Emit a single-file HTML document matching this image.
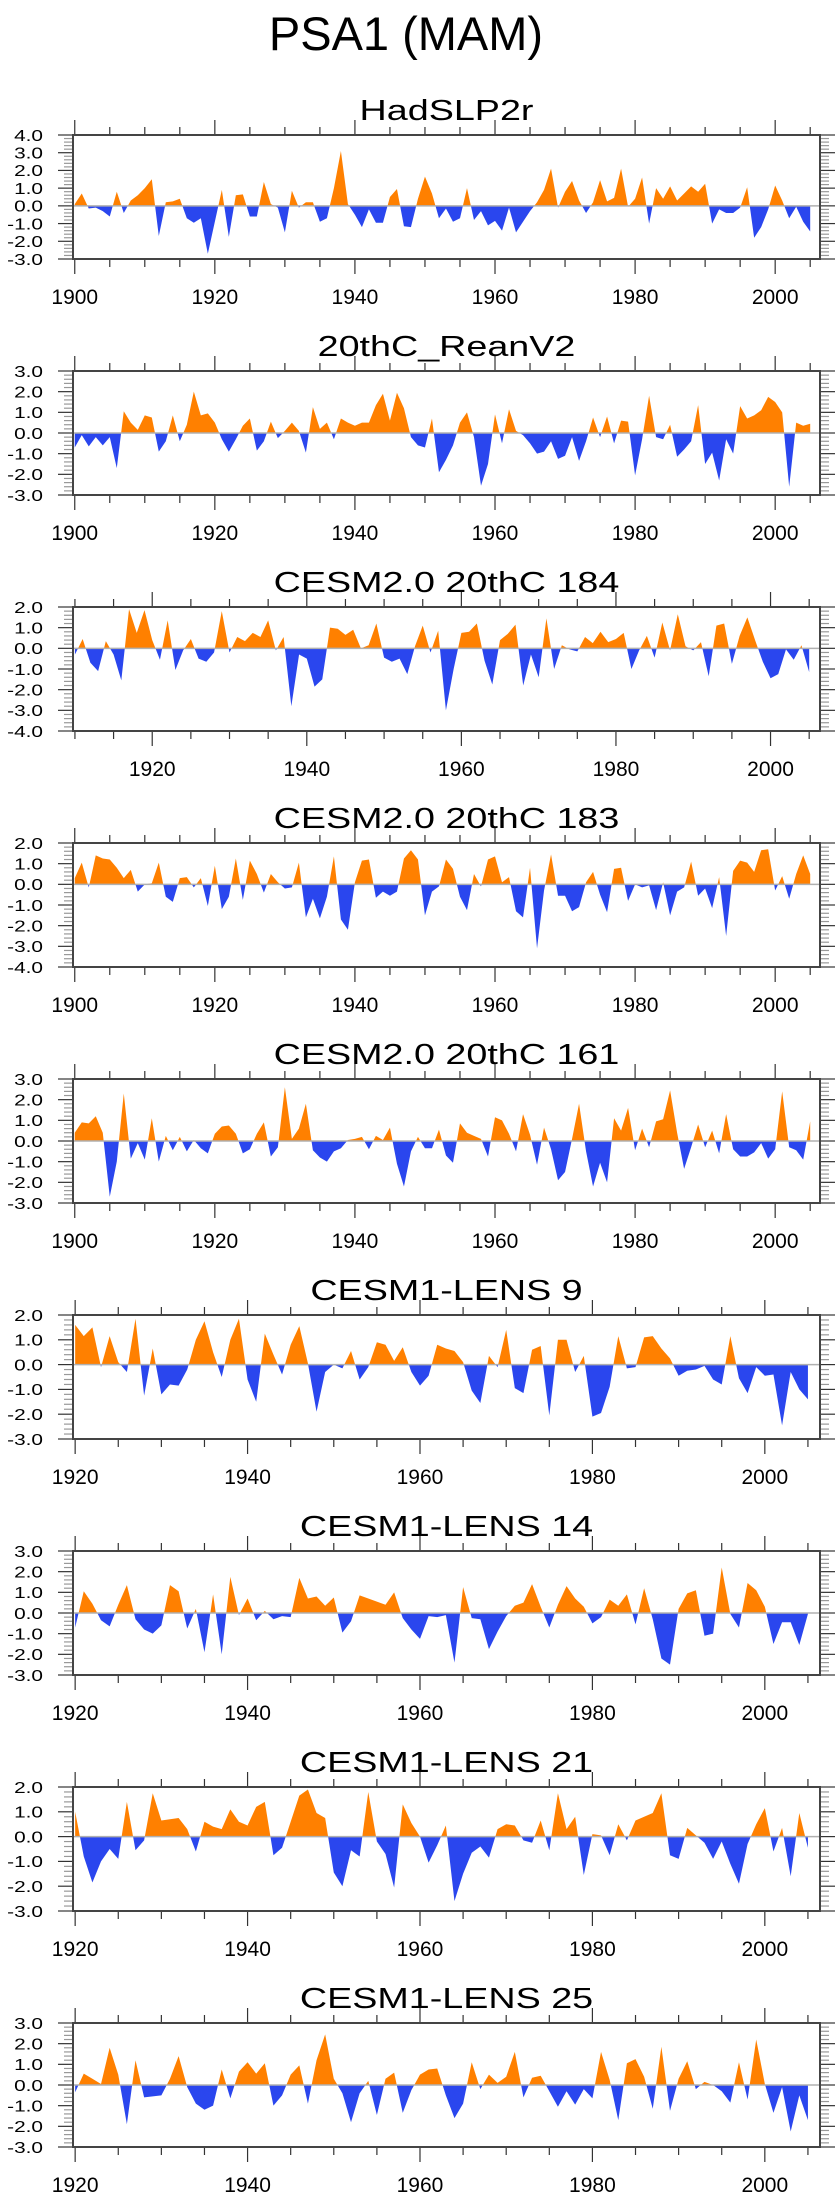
<!DOCTYPE html>
<html><head><meta charset="utf-8">
<style>
html,body{margin:0;padding:0;background:#fff;}
svg{display:block;font-family:"Liberation Sans",Arial,sans-serif;}
</style></head>
<body>
<svg id="chart" width="840" height="2200" viewBox="0 0 840 2200" xmlns="http://www.w3.org/2000/svg">
<text x="406" y="50" font-size="47" text-anchor="middle" fill="#000">PSA1 (MAM)</text>
</svg>
<script>
const panelTitles = ["HadSLP2r","20thC_ReanV2","CESM2.0 20thC 184","CESM2.0 20thC 183","CESM2.0 20thC 161","CESM1-LENS 9","CESM1-LENS 14","CESM1-LENS 21","CESM1-LENS 25"];
const startYears = [1900,1900,1910,1900,1900,1920,1920,1920,1920];
const yMins = [-3,-3,-4,-4,-3,-3,-3,-3,-3];
const yMaxs = [4,3,2,2,3,2,3,2,3];
const xTickYears = [1900,1920,1940,1960,1980,2000];

const hadslp2r = [0.1,0.7,-0.15,-0.1,-0.3,-0.6,0.8,-0.4,0.3,0.6,
1.0,1.5,-1.7,0.2,0.25,0.4,-0.7,-0.95,-0.7,-2.7,
-0.9,0.9,-1.75,0.6,0.65,-0.6,-0.6,1.35,0.1,-0.1,
-1.5,0.85,-0.1,0.2,0.2,-0.9,-0.7,1.0,3.1,0.1,
-0.5,-1.2,-0.2,-0.95,-0.95,0.5,0.95,-1.15,-1.2,0.4,
1.65,0.7,-0.7,-0.15,-0.9,-0.7,1.0,-0.8,-0.3,-1.1,
-0.85,-1.4,-0.1,-1.5,-0.9,-0.3,0.2,0.9,2.1,-0.1,
0.8,1.4,0.3,-0.4,0.2,1.45,0.25,0.45,2.1,-0.05,
0.4,1.6,-1.0,1.0,0.4,1.1,0.3,0.7,1.1,0.8,
1.25,-1.0,-0.2,-0.4,-0.4,-0.1,1.05,-1.8,-1.2,-0.2,
1.15,0.3,-0.7,-0.05,-0.9,-1.45];
const reanV2 = [-0.7,-0.1,-0.65,-0.2,-0.6,-0.2,-1.7,1.05,0.5,0.15,
0.85,0.75,-0.9,-0.4,0.85,-0.4,0.4,2.0,0.85,0.95,
0.5,-0.3,-0.9,-0.3,0.35,0.7,-0.85,-0.4,0.55,-0.25,
0.1,0.5,0.1,-0.95,1.25,0.2,0.5,-0.3,0.7,0.5,
0.35,0.5,0.5,1.35,1.9,0.6,1.95,1.2,-0.2,-0.6,
-0.7,0.7,-1.9,-1.3,-0.6,0.5,1.0,-0.2,-2.55,-1.5,
0.9,-0.5,1.15,0.1,-0.1,-0.5,-1.0,-0.9,-0.4,-1.25,
-1.1,-0.2,-1.35,-0.4,0.75,-0.2,0.8,-0.5,0.6,0.55,
-2.05,-0.3,1.8,-0.2,-0.3,0.4,-1.15,-0.8,-0.4,1.35,
-1.5,-0.95,-2.3,-0.3,-1.0,1.3,0.7,0.85,1.1,1.75,
1.5,1.0,-2.6,0.5,0.35,0.45];
const cesm2_184 = [-0.3,0.45,-0.7,-1.1,0.35,-0.3,-1.55,1.9,0.75,1.85,
0.4,-0.55,1.35,-1.05,-0.1,0.45,-0.5,-0.65,-0.2,1.8,
-0.2,0.55,0.35,0.75,0.55,1.35,-0.1,0.55,-2.8,-0.3,
-0.5,-1.85,-1.5,1.0,0.95,0.65,0.9,0.0,0.15,1.2,
-0.45,-0.65,-0.5,-1.25,0.1,1.1,-0.2,0.85,-3.0,-1.0,
0.75,0.8,1.2,-0.6,-1.75,0.4,0.7,1.15,-1.8,-0.3,
-1.4,1.45,-1.0,0.15,-0.05,-0.15,0.55,0.25,0.8,0.3,
0.45,0.75,-1.0,-0.1,0.6,-0.45,1.25,-0.1,1.65,0.1,
-0.1,0.3,-1.35,1.1,1.2,-0.75,0.6,1.5,0.4,-0.65,
-1.45,-1.25,-0.05,-0.55,0.15,-1.15];
const cesm2_183 = [0.3,1.05,-0.15,1.4,1.25,1.2,0.8,0.3,0.7,-0.35,
0.0,0.05,1.05,-0.6,-0.85,0.3,0.35,-0.15,0.3,-1.05,
0.9,-1.2,-0.6,1.25,-0.75,1.15,0.5,-0.4,0.5,0.1,
-0.2,-0.15,1.05,-1.6,-0.7,-1.65,-0.6,1.35,-1.7,-2.2,
0.1,1.15,1.2,-0.65,-0.35,-0.55,-0.35,1.25,1.65,1.2,
-1.5,-0.35,-0.1,1.2,0.75,-0.6,-1.25,0.5,-0.1,1.2,
1.35,0.1,0.35,-1.3,-1.6,0.8,-3.1,-0.3,1.45,-0.55,
-0.55,-1.3,-1.1,0.1,0.6,-0.5,-1.35,0.75,0.8,-0.8,
0.0,-0.15,-0.05,-1.25,0.1,-1.5,-0.35,-0.15,1.1,-0.55,
-0.2,-1.15,0.35,-2.5,0.65,1.15,1.05,0.6,1.65,1.7,
-0.3,0.4,-0.7,0.5,1.4,0.5];
const cesm2_161 = [0.4,0.9,0.85,1.2,0.4,-2.7,-1.0,2.3,-0.85,-0.1,
-0.9,1.1,-1.0,0.25,-0.45,0.2,-0.5,0.05,-0.35,-0.6,
0.35,0.7,0.75,0.35,-0.6,-0.4,0.35,0.9,-0.75,-0.3,
2.6,0.1,0.6,1.8,-0.45,-0.8,-1.0,-0.5,-0.35,0.05,
0.1,0.2,-0.4,0.25,0.05,0.65,-1.1,-2.2,-0.5,0.2,
-0.35,-0.35,0.55,-0.7,-1.05,0.85,0.4,0.25,0.1,-0.75,
1.15,1.0,0.35,-0.5,1.3,0.3,-1.15,0.65,-0.4,-1.9,
-1.5,0.1,1.8,-0.5,-2.2,-1.05,-2.0,1.1,0.5,1.6,
-0.45,0.6,-0.3,0.95,1.05,2.45,0.4,-1.35,-0.3,0.8,
-0.3,0.5,-0.6,1.3,-0.4,-0.75,-0.75,-0.55,-0.1,-0.85,
-0.4,2.4,-0.3,-0.45,-0.9,0.95];
const lens9 = [1.6,1.15,1.5,-0.1,1.15,0.1,-0.3,1.85,-1.25,0.65,
-1.2,-0.8,-0.85,-0.2,1.0,1.75,0.5,-0.5,1.0,1.85,
-0.6,-1.5,1.25,0.4,-0.4,0.8,1.55,0.05,-1.9,-0.3,
0.0,-0.15,0.55,-0.6,-0.1,0.9,0.8,0.15,0.7,-0.3,
-0.85,-0.45,0.8,0.65,0.55,0.1,-1.05,-1.55,0.35,-0.1,
1.4,-0.95,-1.15,0.6,0.75,-2.05,1.0,1.0,-0.3,0.35,
-2.1,-1.95,-0.9,1.15,-0.15,-0.1,1.1,1.15,0.65,0.25,
-0.45,-0.25,-0.2,-0.05,-0.6,-0.8,1.15,-0.55,-1.15,-0.1,
-0.45,-0.4,-2.45,-0.3,-1.0,-1.4];
const lens14 = [-0.7,1.05,0.45,-0.35,-0.65,0.4,1.35,-0.3,-0.8,-1.0,
-0.6,1.35,1.05,-0.75,0.2,-1.9,0.9,-2.0,1.75,-0.1,
0.7,-0.35,0.1,-0.3,-0.15,-0.2,1.7,0.7,0.8,0.35,
0.75,-0.95,-0.4,0.85,0.7,0.55,0.4,1.0,-0.25,-0.8,
-1.25,-0.15,-0.2,-0.1,-2.4,1.25,-0.25,-0.3,-1.75,-0.9,
-0.15,0.35,0.5,1.4,0.3,-0.7,0.4,1.3,0.7,0.3,
-0.5,-0.2,0.65,0.35,0.9,-0.55,1.2,-0.3,-2.2,-2.5,
0.2,0.95,1.1,-1.1,-1.0,2.2,-0.05,-0.7,1.45,1.1,
0.3,-1.5,-0.45,-0.45,-1.55,-0.05];
const lens21 = [1.0,-0.8,-1.85,-1.0,-0.5,-0.9,1.4,-0.55,-0.15,1.75,
0.65,0.7,0.75,0.3,-0.6,0.6,0.4,0.3,1.1,0.6,
0.45,1.2,1.4,-0.75,-0.45,0.6,1.65,1.9,0.95,0.75,
-1.45,-2.0,-0.55,-0.8,1.8,-0.2,-0.7,-2.05,1.3,0.55,
0.0,-1.05,-0.35,0.45,-2.6,-1.5,-0.65,-0.4,-0.85,0.3,
0.5,0.45,-0.15,-0.25,0.65,-0.55,1.75,0.3,0.8,-1.55,
0.1,0.05,-0.75,0.5,-0.15,0.65,0.8,0.95,1.75,-0.75,
-0.9,0.35,0.05,-0.25,-0.9,-0.2,-1.1,-1.9,-0.3,0.5,
1.15,-0.6,0.35,-1.6,0.95,-0.45];
const lens25 = [-0.35,0.55,0.3,0.05,1.8,0.5,-1.9,1.2,-0.6,-0.55,
-0.5,0.3,1.4,-0.1,-0.9,-1.2,-1.0,0.75,-0.65,0.65,
1.1,0.55,1.05,-1.0,-0.5,0.5,0.95,-0.9,1.2,2.45,
0.3,-0.4,-1.8,-0.4,0.2,-1.45,0.3,0.6,-1.35,-0.25,
0.5,0.75,0.8,-0.5,-1.6,-0.9,1.1,-0.2,0.5,0.1,
0.4,1.6,-0.6,0.35,0.45,-0.3,-1.05,-0.3,-0.95,-0.2,
-0.65,1.6,0.25,-1.7,1.05,1.25,0.4,-1.15,1.85,-1.25,
0.3,1.15,-0.2,0.15,0.0,-0.3,-0.85,1.1,-0.7,2.2,
0.05,-1.35,-0.1,-2.25,-0.5,-1.7];

const seriesList = [hadslp2r, reanV2, cesm2_184, cesm2_183, cesm2_161, lens9, lens14, lens21, lens25];
const NS = "http://www.w3.org/2000/svg";
const svg = document.getElementById('chart');
const L = 73, R = 820, H = 124, TOP0 = 135, STEP = 236;
const ORANGE = "#ff8000", BLUE = "#2a46ee";

function mk(tag, attrs, parent) {
  const e = document.createElementNS(NS, tag);
  for (const k in attrs) e.setAttribute(k, attrs[k]);
  (parent || svg).appendChild(e);
  return e;
}

seriesList.forEach((vals, i) => {
  const top = TOP0 + i * STEP, bot = top + H;
  const y0 = startYears[i];
  const xmin = y0 - 0.25, xmax = 2006.4;
  const xs = yr => L + (yr - xmin) / (xmax - xmin) * (R - L);
  const ys = v => bot - (v - yMins[i]) / (yMaxs[i] - yMins[i]) * H;
  const slug = panelTitles[i].toLowerCase().replace(/[^a-z0-9]+/g, '-');

  const g = mk('g', {});
  
  

  const t = mk('text', {x: 0, y: 0, transform: 'translate(' + ((L + R) / 2) + ',' + (top - 15) + ') scale(1.3,1)', 'font-size': 29, 'text-anchor': 'middle', fill: '#000'}, g);
  
  
  t.textContent = panelTitles[i];

  const pts = [];
  for (let k = 0; k < vals.length; k++) {
    const yr = y0 + k, v = vals[k];
    if (k > 0) {
      const pv = vals[k - 1];
      if ((pv > 0 && v < 0) || (pv < 0 && v > 0)) {
        const f = pv / (pv - v);
        pts.push([yr - 1 + f, 0]);
      }
    }
    pts.push([yr, v]);
  }
  const z = ys(0);
  const first = xs(pts[0][0]), last = xs(pts[pts.length - 1][0]);
  let dPos = 'M' + first + ',' + z, dNeg = 'M' + first + ',' + z;
  pts.forEach(p => {
    dPos += 'L' + xs(p[0]).toFixed(2) + ',' + ys(Math.max(p[1], 0)).toFixed(2);
    dNeg += 'L' + xs(p[0]).toFixed(2) + ',' + ys(Math.min(p[1], 0)).toFixed(2);
  });
  dPos += 'L' + last + ',' + z + 'Z';
  dNeg += 'L' + last + ',' + z + 'Z';
  const pa = mk('path', {d: dPos, fill: ORANGE}, g);
  
  
  const na = mk('path', {d: dNeg, fill: BLUE}, g);
  
  

  const zl = mk('line', {x1: L, x2: R, y1: z, y2: z, stroke: '#b0b0b0', 'stroke-width': 1.5}, g);
  
  

  for (let v = yMins[i]; v <= yMaxs[i] + 1e-6; v += 0.2) {
    const yy = ys(v);
    const major = Math.abs(v - Math.round(v)) < 1e-6;
    const len = major ? 15 : 9;
    const col = major ? '#333' : '#999';
    mk('line', {x1: L - len, x2: L, y1: yy, y2: yy, stroke: col, 'stroke-width': 1.2}, g);
    mk('line', {x1: R, x2: R + len, y1: yy, y2: yy, stroke: col, 'stroke-width': 1.2}, g);
    if (major) {
      const lb = mk('text', {x: 0, y: 0, transform: 'translate(43,' + (yy + 5.8) + ') scale(1.3,1)', 'font-size': 16, 'text-anchor': 'end', fill: '#000'}, g);
      
      
      lb.textContent = Math.round(v).toFixed(1);
    }
  }
  for (let yr = 1900; yr <= 2005; yr += 5) {
    const xx = xs(yr);
    if (xx < L - 0.5) continue;
    const major = yr % 20 === 0;
    const len = major ? 15 : 8;
    mk('line', {x1: xx, x2: xx, y1: top - len, y2: top, stroke: '#333', 'stroke-width': 1.2}, g);
    mk('line', {x1: xx, x2: xx, y1: bot, y2: bot + len, stroke: '#333', 'stroke-width': 1.2}, g);
  }
  xTickYears.forEach(yr => {
    const xx = xs(yr);
    if (xx < L - 3) return;
    const lb = mk('text', {x: xx, y: bot + 45, 'font-size': 21, 'text-anchor': 'middle', fill: '#000'}, g);
    
    
    lb.textContent = yr;
  });

  const frame = mk('rect', {x: L, y: top, width: R - L, height: H, fill: 'none', stroke: '#444', 'stroke-width': 2}, g);
  
  
});
</script>
</body></html>
